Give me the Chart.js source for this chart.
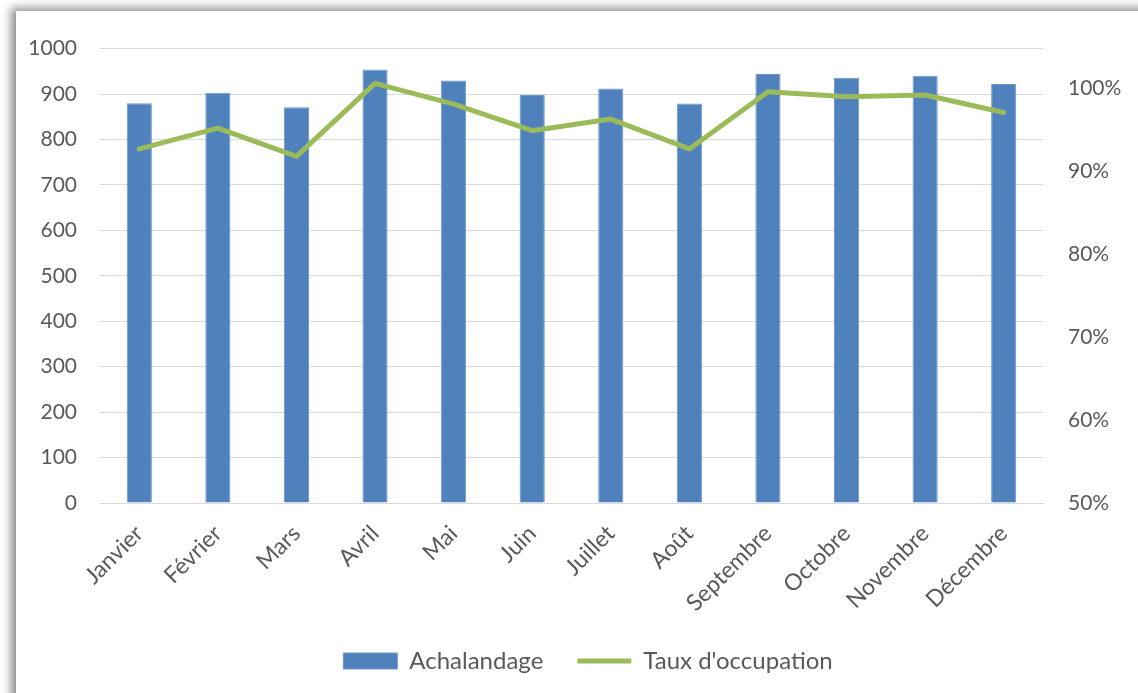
<!DOCTYPE html>
<html>
<head>
<meta charset="utf-8">
<script src="https://cdn.jsdelivr.net/npm/chart.js@4/dist/chart.umd.min.js"></script>
<style>
  html, body { margin: 0; padding: 0; background: #ffffff; overflow: hidden; }
  #frame {
    position: absolute; left: 16px; top: 11px; width: 1140px; height: 700px;
    background: #ffffff;
    box-shadow: -5px -3px 9px rgba(0, 0, 0, 0.45);
  }
  canvas { position: absolute; left: 0; top: 0; }
</style>
</head>
<body>
<div id="frame"><canvas id="myChart" width="1122" height="672"></canvas></div>
<script>
// Data
const months = ['Janvier', 'Février', 'Mars', 'Avril', 'Mai', 'Juin', 'Juillet', 'Août',
  'Septembre', 'Octobre', 'Novembre', 'Décembre'];
const achalandage = [880, 903, 871, 954, 930, 898, 912, 879, 944, 936, 940, 922];
const tauxOccupation = [92.7, 95.2, 91.8, 100.6, 98.1, 94.9, 96.3, 92.7, 99.6, 99.0, 99.2, 97.1];
const leftTicks = [0, 100, 200, 300, 400, 500, 600, 700, 800, 900, 1000];
const rightTicks = [50, 60, 70, 80, 90, 100];

const textColor = '#595959';
const gridColor = '#d9d9d9';
const fontFamily = 'Lato, "Open Sans", sans-serif';

// the legend sits a little right of the canvas centre
const legendShift = {
  id: 'legendShift',
  afterLayout(chart) {
    chart.legend.left += 11;
    chart.legend.right += 11;
  },
};

const ctx = document.getElementById('myChart').getContext('2d');
const myChart = new Chart(ctx, {
  type: 'bar',
  data: {
    labels: months,
    datasets: [{
      type: 'bar',
      label: 'Achalandage',
      data: achalandage,
      backgroundColor: '#4f81bd',
      borderColor: '#6d97c9',
      borderWidth: 1,
      barPercentage: 0.32,
      categoryPercentage: 1,
      yAxisID: 'y',
      order: 1,
      pointStyle: 'rect',
    }, {
      type: 'line',
      label: "Taux d'occupation",
      data: tauxOccupation,
      borderColor: '#9bbb59',
      backgroundColor: '#9bbb59',
      borderWidth: 5,
      borderJoinStyle: 'round',
      borderCapStyle: 'round',
      pointRadius: 0,
      tension: 0,
      yAxisID: 'y1',
      order: 0,
      pointStyle: 'line',
    }],
  },
  options: {
    responsive: false,
    animation: false,
    layout: { padding: { left: 0, right: 0, top: 20, bottom: 0 } },
    plugins: {
      tooltip: { enabled: false },
      legend: {
        position: 'bottom',
        labels: {
          usePointStyle: true,
          pointStyleWidth: 54,
          boxHeight: 16,
          padding: 34,
          color: textColor,
          font: { family: fontFamily, size: 24 },
          sort: (a, b) => a.datasetIndex - b.datasetIndex,
        },
      },
    },
    scales: {
      x: {
        grid: { display: false },
        border: { color: gridColor },
        afterFit: (axis) => { axis.height = 112; },
        ticks: {
          color: textColor,
          font: { family: fontFamily, size: 23 },
          minRotation: 45,
          maxRotation: 45,
          padding: 9,
        },
      },
      y: {
        position: 'left',
        min: 0,
        max: 1000,
        grid: { color: gridColor, lineWidth: 1, drawTicks: false },
        border: { display: false },
        afterBuildTicks: (axis) => { axis.ticks = leftTicks.map(v => ({ value: v })); },
        afterFit: (axis) => { axis.width = 84; },
        ticks: {
          color: textColor,
          font: { family: fontFamily, size: 21 },
          padding: 23,
          callback: (v) => String(v),
        },
      },
      y1: {
        position: 'right',
        min: 50,
        max: 104.8,
        grid: { drawOnChartArea: false, drawTicks: false },
        border: { display: false },
        afterBuildTicks: (axis) => { axis.ticks = rightTicks.map(v => ({ value: v })); },
        afterFit: (axis) => { axis.width = 95; },
        ticks: {
          color: textColor,
          font: { family: fontFamily, size: 21 },
          padding: 25,
          callback: (v) => v + '%',
        },
      },
    },
  },
  plugins: [legendShift],
});
</script>
</body>
</html>
